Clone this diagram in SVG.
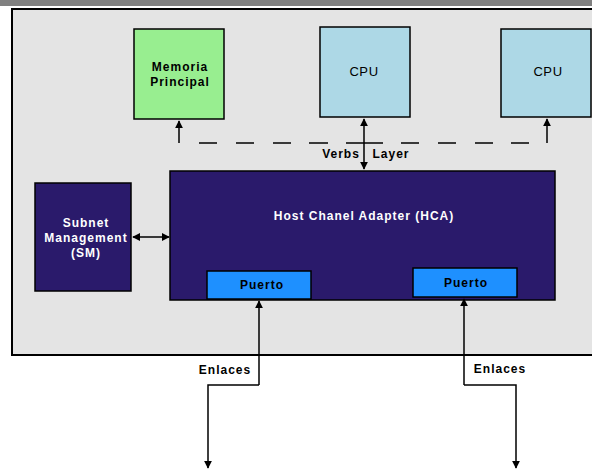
<svg xmlns="http://www.w3.org/2000/svg" width="592" height="470" viewBox="0 0 592 470">
  <style>
    .lbl { font-family: "Liberation Sans", Arial, sans-serif; font-size: 12px; font-weight: bold; letter-spacing: 1px; text-anchor: middle; }
    .dark { fill: #000000; }
    .light { fill: #ffffff; }
    .cpu { font-family: "Liberation Sans", Arial, sans-serif; font-size: 13px; letter-spacing: 0.6px; text-anchor: middle; fill: #000000; }
    .box { stroke: #000000; stroke-width: 1.5; }
    .wire { fill: none; stroke: #000000; stroke-width: 1.5; }
  </style>
  <defs>
    <marker id="head" viewBox="0 0 10 10" refX="9" refY="5" markerWidth="8" markerHeight="8" markerUnits="userSpaceOnUse" orient="auto-start-reverse">
      <path d="M0,0 L10,5 L0,10 z" fill="#000000"/>
    </marker>
  </defs>

  <!-- page background and header strip -->
  <rect x="0" y="0" width="592" height="470" fill="#ffffff"/>
  <rect x="0" y="0" width="592" height="6" fill="#808080"/>

  <!-- host enclosure -->
  <rect x="12" y="9" width="590" height="346" fill="#e4e4e4" stroke="#000000" stroke-width="2"/>

  <g id="memoria">
    <rect class="box" x="134" y="29" width="90" height="90" fill="#98ee90"/>
    <text class="lbl dark" x="180" y="71">Memoria</text>
    <text class="lbl dark" x="180" y="86">Principal</text>
  </g>

  <g id="cpu1">
    <rect class="box" x="320" y="27" width="90" height="90" fill="#add8e6"/>
    <text class="cpu" x="364" y="76">CPU</text>
  </g>

  <g id="cpu2">
    <rect class="box" x="501" y="29" width="90" height="88" fill="#add8e6"/>
    <text class="cpu" x="548" y="76">CPU</text>
  </g>

  <g id="hca">
    <rect class="box" x="170" y="171" width="385" height="129" fill="#2a1a6b"/>
    <text class="lbl light" x="364" y="220">Host Chanel Adapter (HCA)</text>
  </g>

  <g id="sm">
    <rect class="box" x="35" y="183" width="96" height="108" fill="#2a1a6b"/>
    <text class="lbl light" x="86" y="227">Subnet</text>
    <text class="lbl light" x="86" y="242">Management</text>
    <text class="lbl light" x="86" y="257">(SM)</text>
  </g>

  <g id="puerto1">
    <rect class="box" x="207" y="271" width="104" height="28" fill="#1e90ff"/>
    <text class="lbl dark" x="262" y="289">Puerto</text>
  </g>

  <g id="puerto2">
    <rect class="box" x="413" y="268" width="104" height="29" fill="#1e90ff"/>
    <text class="lbl dark" x="466" y="287">Puerto</text>
  </g>

  <g id="connectors">
    <!-- verbs layer bus -->
    <path class="wire" stroke-width="2" d="M199,143 H217 M236,143 H254 M273,143 H291 M309,143 H328 M346,143 H383 M401,143 H419 M438,143 H456 M475,143 H493 M511,143 H529"/>
    <line class="wire" x1="179" y1="143" x2="179" y2="121" marker-end="url(#head)"/>
    <line class="wire" x1="547" y1="143" x2="547" y2="119" marker-end="url(#head)"/>
    <line class="wire" x1="364" y1="169" x2="364" y2="119" marker-start="url(#head)" marker-end="url(#head)"/>
    <text class="lbl dark" x="341" y="158">Verbs</text>
    <text class="lbl dark" x="391" y="158">Layer</text>

    <!-- SM to HCA -->
    <line class="wire" x1="133" y1="237" x2="169" y2="237" marker-start="url(#head)" marker-end="url(#head)"/>

    <!-- links out of the ports -->
    <polyline class="wire" points="259,385 208,385 208,468" marker-end="url(#head)"/>
    <line class="wire" x1="259" y1="385" x2="259" y2="301" marker-end="url(#head)"/>
    <polyline class="wire" points="464,385 516,385 516,468" marker-end="url(#head)"/>
    <line class="wire" x1="464" y1="385" x2="464" y2="299" marker-end="url(#head)"/>
    <text class="lbl dark" x="225" y="374">Enlaces</text>
    <text class="lbl dark" x="500" y="373">Enlaces</text>
  </g>
</svg>
